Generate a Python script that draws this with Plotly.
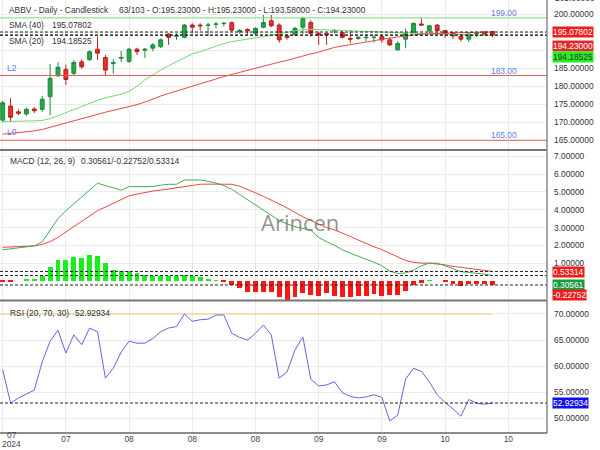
import plotly.graph_objects as go

# ---------------- data ----------------
ticker = "ABBV"
bar_pos = "63/103"
idx = list(range(63))

opens = [170.6, 174.5, 172.9, 172.3, 173.7, 173.6, 177.1, 182.9, 184.7, 183.6,
         186.8, 187.4, 190.3, 188.0, 186.3, 187.8, 186.9, 190.3, 190.0, 190.6,
         191.0, 194.5, 193.9, 193.6, 197.0, 197.0, 196.9, 197.2, 197.4, 197.7,
         195.2, 195.8, 194.7, 196.4, 198.2, 197.0, 194.0, 194.3, 196.4, 197.7,
         194.7, 194.7, 195.4, 194.9, 193.3, 193.3, 193.5, 193.5, 193.8, 192.9,
         190.1, 193.1, 194.9, 197.3, 195.4, 197.0, 195.5, 194.9, 193.8, 193.1,
         194.6, 195.1, 195.23]
highs = [176.0, 176.7, 173.6, 174.1, 174.2, 177.3, 186.2, 186.7, 186.0, 187.3,
         187.5, 190.0, 193.8, 188.7, 187.5, 189.8, 190.7, 190.7, 190.6, 192.0,
         193.3, 194.7, 194.7, 197.3, 197.5, 197.5, 197.7, 197.9, 197.9, 198.0,
         195.9, 196.1, 196.4, 199.8, 199.8, 197.5, 194.6, 196.5, 199.3, 198.4,
         195.2, 194.8, 195.9, 195.5, 195.5, 194.0, 194.3, 194.3, 194.3, 193.6,
         192.5, 196.1, 197.7, 198.9, 197.1, 197.3, 195.7, 195.1, 194.0, 194.7,
         195.1, 195.2, 195.23]
lows = [170.0, 170.2, 172.0, 171.8, 172.6, 172.9, 172.0, 182.7, 180.4, 182.9,
        184.9, 187.0, 187.3, 183.1, 183.5, 186.7, 186.5, 188.7, 187.9, 189.7,
        190.6, 191.5, 192.9, 193.3, 194.7, 195.5, 194.0, 196.1, 196.6, 195.1,
        194.6, 194.3, 194.3, 196.1, 196.4, 192.1, 193.0, 194.0, 194.5, 193.8,
        191.5, 191.5, 194.6, 193.3, 192.0, 192.9, 192.6, 192.1, 192.1, 191.2,
        190.1, 190.6, 194.7, 196.8, 194.7, 194.9, 193.5, 193.1, 192.4, 192.3,
        193.6, 194.2, 193.58]
closes = [175.4, 171.4, 172.5, 173.6, 173.2, 176.4, 182.2, 185.3, 181.9, 186.6,
          185.4, 189.6, 189.2, 184.5, 186.6, 188.0, 190.3, 189.6, 190.3, 191.5,
          192.9, 193.6, 194.1, 197.0, 196.4, 196.8, 197.0, 197.3, 197.5, 195.6,
          195.5, 195.4, 196.1, 197.7, 196.8, 192.9, 193.6, 196.1, 198.9, 194.7,
          194.3, 194.3, 195.5, 193.6, 193.1, 193.6, 193.6, 193.6, 192.9, 191.5,
          191.9, 194.7, 197.5, 197.0, 196.8, 195.5, 194.7, 194.0, 193.1, 194.5,
          194.7, 194.5, 194.23]

sma20 = [170.2, 170.2, 170.3, 170.3, 170.4, 170.5, 171.0, 171.8, 172.7, 173.5,
         174.3, 175.2, 176.1, 176.8, 177.3, 177.8, 178.6, 180.0, 181.8, 183.2,
         184.5, 185.7, 186.8, 188.0, 189.0, 189.6, 190.4, 191.2, 191.9, 192.4,
         192.7, 193.0, 193.4, 193.8, 194.2, 194.6, 195.0, 195.4, 195.8, 195.8,
         195.8, 195.7, 195.6, 195.5, 195.4, 195.4, 195.3, 195.2, 195.0, 194.9,
         194.8, 194.7, 194.6, 194.6, 194.5, 194.5, 194.4, 194.4, 194.3, 194.3,
         194.2, 194.2, 194.18525]
sma40 = [166.7, 166.9, 167.1, 167.3, 167.6, 168.0, 168.6, 169.3, 170.0, 170.6,
         171.1, 171.6, 172.2, 172.8, 173.3, 173.8, 174.3, 174.9, 175.6, 176.5,
         177.3, 178.0, 178.7, 179.4, 180.1, 180.8, 181.5, 182.1, 182.7, 183.3,
         183.9, 184.5, 185.1, 185.6, 186.1, 186.7, 187.2, 187.8, 188.6, 189.0,
         189.5, 190.2, 190.8, 191.2, 191.6, 192.0, 192.4, 192.8, 193.1, 193.4,
         193.7, 194.0, 194.3, 194.5, 194.6, 194.7, 194.8, 194.9, 194.95, 195.0,
         195.0, 195.05, 195.07802]

macd = [1.75, 1.8, 1.85, 1.9, 1.97, 2.2, 2.87, 3.5, 3.95, 4.35,
        4.7, 5.1, 5.49, 5.35, 5.2, 5.1, 5.3, 5.3, 5.3, 5.3,
        5.38, 5.43, 5.43, 5.67, 5.67, 5.67, 5.6, 5.5, 5.35, 5.15,
        4.85, 4.55, 4.25, 3.95, 3.65, 3.4, 3.2, 3.05, 2.95, 2.85,
        2.45, 2.2, 2.0, 1.75, 1.56, 1.4, 1.25, 1.05, 0.85, 0.55,
        0.42, 0.45, 0.6, 0.85, 1.0, 1.0, 0.85, 0.68, 0.52, 0.48,
        0.45, 0.38, 0.30561]
signal = [1.89, 1.9, 1.92, 1.95, 1.97, 2.05, 2.21, 2.45, 2.75, 3.0,
          3.3, 3.6, 3.95, 4.15, 4.35, 4.55, 4.78, 4.88, 4.98, 5.05,
          5.1, 5.17, 5.23, 5.3, 5.36, 5.43, 5.44, 5.44, 5.43, 5.43,
          5.32, 5.15, 4.95, 4.75, 4.55, 4.33, 4.1, 3.85, 3.6, 3.4,
          3.2, 3.0, 2.87, 2.7, 2.5, 2.3, 2.1, 1.92, 1.76, 1.55,
          1.35, 1.15, 1.05, 1.0, 1.0, 0.97, 0.9, 0.82, 0.76, 0.7,
          0.64, 0.58, 0.53314]
hist = [-0.05, -0.05, 0.0, 0.1, 0.13, 0.3, 0.77, 1.2, 1.2, 1.36,
        1.29, 1.46, 1.42, 1.01, 0.63, 0.54, 0.54, 0.45, 0.34, 0.3,
        0.3, 0.3, 0.3, 0.36, 0.3, 0.2, 0.1, 0.04, -0.02, -0.2,
        -0.41, -0.6, -0.6, -0.6, -0.6, -0.92, -1.05, -0.92, -0.66, -0.81,
        -0.84, -0.66, -0.84, -0.92, -0.92, -0.84, -0.84, -0.75, -0.84, -0.81,
        -0.81, -0.57, -0.24, -0.1, 0.02, 0.0, -0.05, -0.17, -0.3, -0.17,
        -0.17, -0.17, -0.22752]

rsi = [59.3, 52.9, 53.9, 54.7, 55.4, 60.8, 64.8, 66.9, 62.5, 66.0,
       64.1, 67.3, 66.6, 57.7, 59.6, 62.7, 64.8, 64.4, 64.4, 65.3,
       66.6, 67.3, 67.6, 70.0, 68.6, 68.9, 69.0, 69.8, 69.8, 66.3,
       65.5, 65.0, 66.3, 67.9, 66.0, 57.7, 58.9, 63.1, 65.6, 57.5,
       56.2, 56.4, 57.0, 54.9, 54.2, 53.9, 54.1, 54.5, 54.0, 49.5,
       50.6, 57.5, 59.6, 59.0, 57.0, 54.5, 53.0, 51.8, 50.4, 53.6,
       52.9, 52.7, 52.92934]
rsi_upper = 70

levels = [199.0, 183.0, 165.0]
level_names = ["", "L2", "L0"]
level_colors = ["#72dc72", "#e85a5a", "#e85a5a"]

tick_idx = [0, 8, 16, 24, 32, 40, 48, 56, 64]
tick_text = ["07", "07", "08", "08", "08", "09", "09", "10", "10"]
year_label = "2024"

price_ticks = [165, 170, 175, 180, 185, 190, 195, 200]
price_hidden = [190, 195]          # covered by the value boxes in the reference
macd_ticks = [1, 2, 3, 4, 5, 6, 7]
rsi_ticks = [50, 55, 60, 65, 70]

# ---------------- layout helpers ----------------
W, H = 600, 450
ML, MR, MT, MB = 0, 53, 0, 17
PW, PH = W - ML - MR, H - MT - MB
FONT = "Liberation Sans, Arial, sans-serif"
FS = 8.4


def yp(px):
    return (PH - px) / PH


def xp(px):
    return px / PW


X_RANGE = [-0.34, 68.9]
fig = go.Figure()

# ---------------- price panel ----------------
fig.add_trace(go.Candlestick(
    x=idx, open=opens, high=highs, low=lows, close=closes,
    xaxis="x", yaxis="y",
    increasing=dict(fillcolor="#25a84c", line=dict(color="#1e8a3e", width=1)),
    decreasing=dict(fillcolor="#e8302c", line=dict(color="#b8231f", width=1)),
    whiskerwidth=0, showlegend=False))
fig.add_trace(go.Scatter(x=idx, y=sma20, mode="lines", xaxis="x", yaxis="y",
                         line=dict(color="#6fdc6f", width=1), showlegend=False))
fig.add_trace(go.Scatter(x=idx, y=sma40, mode="lines", xaxis="x", yaxis="y",
                         line=dict(color="#e84848", width=1), showlegend=False))

# ---------------- MACD panel ----------------
fig.add_trace(go.Bar(x=idx, y=hist, xaxis="x2", yaxis="y2", width=0.62,
                     marker=dict(color=["#18ee18" if v >= 0 else "#ff1414" for v in hist],
                                 line=dict(width=0)),
                     showlegend=False))
fig.add_trace(go.Scatter(x=idx, y=signal, mode="lines", xaxis="x2", yaxis="y2",
                         line=dict(color="#ee4444", width=1), showlegend=False))
fig.add_trace(go.Scatter(x=idx, y=macd, mode="lines", xaxis="x2", yaxis="y2",
                         line=dict(color="#3fae55", width=1), showlegend=False))

# ---------------- RSI panel ----------------
fig.add_trace(go.Scatter(x=[X_RANGE[0], idx[-1]], y=[rsi_upper, rsi_upper], mode="lines",
                         xaxis="x3", yaxis="y3", line=dict(color="#f3c878", width=1.2),
                         showlegend=False))
fig.add_trace(go.Scatter(x=idx, y=rsi, mode="lines", xaxis="x3", yaxis="y3",
                         line=dict(color="#6a62e0", width=1), showlegend=False))

grid = "#ebebeb"
xcommon = dict(range=X_RANGE, showgrid=True, gridcolor=grid, gridwidth=1, zeroline=False,
               tickvals=tick_idx, showline=False, ticks="", ticklen=0, fixedrange=True)
ycommon = dict(side="right", showgrid=True, gridcolor=grid, zeroline=False, ticks="",
               showline=False, tickfont=dict(family=FONT, size=FS, color="#333"),
               ticklabelstandoff=6)

fig.update_layout(
    width=W, height=H, margin=dict(l=ML, r=MR, t=MT, b=MB),
    paper_bgcolor="white", plot_bgcolor="white", bargap=0,
    font=dict(family=FONT, size=FS, color="#333"),
    xaxis=dict(**xcommon, anchor="y", showticklabels=False, rangeslider=dict(visible=False)),
    xaxis2=dict(**xcommon, anchor="y2", showticklabels=False),
    xaxis3=dict(**xcommon, anchor="y3", showticklabels=True, ticklabelstandoff=0,
                ticktext=[""] + tick_text[1:],
                tickfont=dict(family=FONT, size=FS, color="#444")),
    yaxis=dict(**ycommon, domain=[yp(150), 1], range=[162.3, 203.97],
               tickvals=price_ticks,
               ticktext=["" if v in price_hidden else f"{v:.5f}" for v in price_ticks]),
    yaxis2=dict(**ycommon, domain=[yp(300), yp(151)], range=[-1.07, 7.30],
                tickvals=macd_ticks, ticktext=[f"{v:.5f}" for v in macd_ticks]),
    yaxis3=dict(**ycommon, domain=[0, yp(301)], range=[47.18, 72.49],
                tickvals=rsi_ticks, ticktext=[f"{v:.5f}" for v in rsi_ticks]),
)

shapes = []
annots = []

# level lines
label_y_px = [13.3, 70.7, 135]
for lv, nm, col, ly in zip(levels, level_names, level_colors, label_y_px):
    shapes.append(dict(type="line", xref="x domain", yref="y", x0=0, x1=1, y0=lv, y1=lv,
                       line=dict(color=col, width=1)))
    annots.append(dict(xref="paper", yref="paper", x=xp(504), y=yp(ly), text=f"{lv:.2f}",
                       showarrow=False, font=dict(family=FONT, size=FS, color="#5a80e0"),
                       xanchor="center", yanchor="middle"))
    if nm:
        annots.append(dict(xref="paper", yref="paper", x=xp(5), y=yp(ly - 3), text=nm,
                           showarrow=False, font=dict(family=FONT, size=FS, color="#5a80e0"),
                           xanchor="left", yanchor="middle"))

# dashed current-value lines
for yref, val in [("y", sma40[-1]), ("y", closes[-1]), ("y", sma20[-1]),
                  ("y2", signal[-1]), ("y2", macd[-1]), ("y2", hist[-1]),
                  ("y3", rsi[-1])]:
    shapes.append(dict(type="line", xref="x domain", yref=yref, x0=0, x1=1, y0=val, y1=val,
                       line=dict(color="#222", width=1, dash="3px,2px")))

# panel separators and axis lines
for py in [150, 300.5]:
    shapes.append(dict(type="line", xref="paper", yref="paper", x0=0, x1=1,
                       y0=yp(py), y1=yp(py), line=dict(color="#777", width=2)))
shapes.append(dict(type="line", xref="paper", yref="paper", x0=1, x1=1, y0=0, y1=1,
                   line=dict(color="#888", width=1.5)))
shapes.append(dict(type="line", xref="paper", yref="paper", x0=0, x1=1, y0=0, y1=0,
                   line=dict(color="#666", width=1.5)))

# value boxes on right axis
boxes = [
    ("y", sma40[-1], "#ee1c1c", "white", 0),
    ("y", closes[-1], "#e02a2a", "white", -11),
    ("y", sma20[-1], "#22ee22", "#333", -22),
    ("y2", signal[-1], "#ee1c1c", "white", -1),
    ("y2", macd[-1], "#1a9a3c", "white", -9),
    ("y2", hist[-1], "#ee1c1c", "white", -10),
    ("y3", rsi[-1], "#1010ee", "white", 0),
]
for yref, val, bg, fc, sh in boxes:
    annots.append(dict(xref="paper", yref=yref, x=1, y=val, xshift=5, yshift=sh,
                       text=f"{val:.5f}", showarrow=False, bgcolor=bg, borderpad=0,
                       font=dict(family=FONT, size=FS, color=fc),
                       xanchor="left", yanchor="middle"))

# partially visible top label
annots.append(dict(xref="paper", yref="paper", x=1, xshift=6, y=yp(-1.5), text="205.00000",
                   showarrow=False, font=dict(family=FONT, size=FS, color="#333"),
                   xanchor="left", yanchor="middle"))

# headers
def txt(x, y, s, color="#333", size=FS, anchor="left"):
    annots.append(dict(xref="paper", yref="paper", x=xp(x), y=yp(y), text=s, showarrow=False,
                       font=dict(family=FONT, size=size, color=color),
                       xanchor=anchor, yanchor="middle"))

txt(7, 10, f"{ticker} - Daily - Candlestick")
txt(117, 10, f"{bar_pos} - O:{opens[-1]:.5f} - H:{highs[-1]:.5f} - L:{lows[-1]:.5f} - C:{closes[-1]:.5f}")
txt(7, 25, "SMA (40)")
txt(50, 25, f"{sma40[-1]:.5f}")
txt(7, 41, "SMA (20)")
txt(50, 41, f"{sma20[-1]:.5f}")
txt(8, 161, "MACD (12, 26, 9)")
txt(79, 161, f"{macd[-1]:.5f}/{hist[-1]:.5f}/{signal[-1]:.5f}")
txt(8, 312.7, "RSI (20, 70, 30)")
txt(73, 312.7, f"{rsi[-1]:.5f}")

# first x label with year
txt(11.5, 434.5, tick_text[0], color="#444", anchor="center")
txt(11.5, 444.5, year_label, color="#444", anchor="center")

# watermark
annots.append(dict(xref="paper", yref="paper", x=xp(300), y=yp(222), text="Arincen",
                   showarrow=False, font=dict(family="Open Sans, Arial", size=22,
                                              color="rgba(110,110,110,0.75)"),
                   xanchor="center", yanchor="middle"))

fig.update_layout(shapes=shapes, annotations=annots)
fig.write_html("out.html")
